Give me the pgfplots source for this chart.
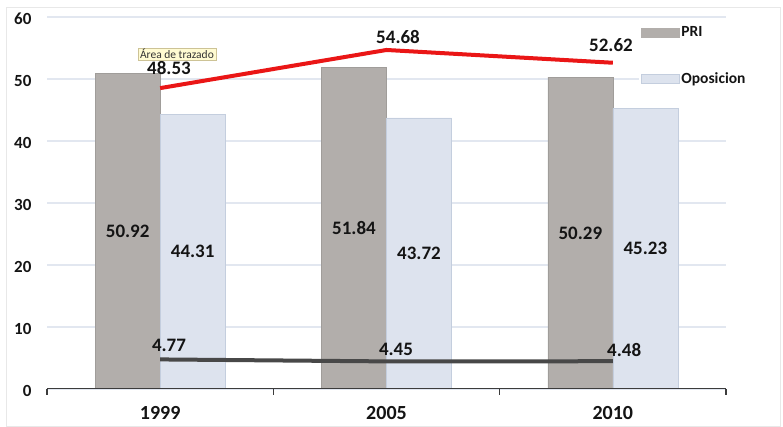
\documentclass[border=0pt]{standalone}
\usepackage{fontspec}
\setmainfont{Carlito}
\usepackage{pgfplots}
\pgfplotsset{compat=1.18}
\definecolor{prigray}{RGB}{178,174,171}
\definecolor{oposblue}{RGB}{221,227,238}
\definecolor{oposedge}{RGB}{196,206,222}
\definecolor{gridcol}{RGB}{226,231,240}
\definecolor{redline}{RGB}{234,22,22}
\definecolor{darkline}{RGB}{72,72,72}
\definecolor{axiscol}{RGB}{60,60,60}
\definecolor{labcol}{RGB}{20,20,20}
\definecolor{bordergray}{RGB}{232,232,232}
\definecolor{tipyellow}{RGB}{255,251,210}
\definecolor{tipborder}{RGB}{205,195,150}
\begin{document}
\begin{tikzpicture}
\path[use as bounding box] (-47pt,-38pt) rectangle (736pt,389pt);
\draw[bordergray, line width=0.8pt] (-41pt,-37pt) rectangle (733pt,382pt);
\begin{axis}[
  at={(0pt,0pt)}, anchor=south west,
  scale only axis, width=679pt, height=372pt,
  xmin=-0.5, xmax=2.5, ymin=0, ymax=60,
  xtick={0,1,2}, xticklabels={1999,2005,2010},
  minor xtick={-0.5,0.5,1.5,2.5},
  ytick={0,10,20,30,40,50,60},
  major tick length=0pt,
  minor tick length=6pt,
  tick align=outside,
  tick pos=left,
  minor tick style={axiscol, line width=1.2pt},
  axis line style={draw=none},
  ymajorgrids,
  grid style={gridcol, line width=1.2pt},
  /pgf/number format/assume math mode=true,
  yticklabel style={font=\bfseries\fontsize{17}{20}\selectfont, text=labcol, xshift=-12pt, yshift=-2pt},
  xticklabel style={font=\bfseries\fontsize{20}{24}\selectfont, text=labcol, yshift=-14pt},
  legend style={at={(rel axis cs:0.872,0.99)}, anchor=north west, draw=none, fill=white,
    font=\bfseries\fontsize{15.5}{18}\selectfont, text=labcol, row sep=30pt, inner xsep=2pt, inner ysep=4pt,
    nodes={inner xsep=1.5pt}},
  legend cell align=left,
]
\addplot[ybar, bar width=65pt, bar shift=-32.5pt, fill=prigray, draw=prigray!90!black, line width=0.4pt, forget plot]
  coordinates {(0,50.92) (1,51.84) (2,50.29)};
\addplot[ybar, bar width=65pt, bar shift=32.5pt, fill=oposblue, draw=oposedge, line width=0.6pt, forget plot]
  coordinates {(0,44.31) (1,43.72) (2,45.23)};
\addplot[sharp plot, redline, line width=4pt, mark=none, forget plot]
  coordinates {(0,48.53) (1,54.68) (2,52.62)};
\addplot[sharp plot, darkline, line width=4pt, mark=none, forget plot]
  coordinates {(0,4.77) (1,4.45) (2,4.48)};
\draw[axiscol, line width=1.4pt] (axis cs:-0.5,0) -- (axis cs:2.5,0);

\addlegendimage{legend image code/.code={\fill[prigray] (0pt,-4.5pt) rectangle (38pt,4.5pt);}}
\addlegendentry{PRI}
\addlegendimage{legend image code/.code={\fill[oposblue] (0pt,-4.5pt) rectangle (38pt,4.5pt); \draw[oposedge, line width=0.6pt] (0pt,-4.5pt) rectangle (38pt,4.5pt);}}
\addlegendentry{Oposicion}

\begin{scope}[every node/.style={font=\bfseries\fontsize{19}{22}\selectfont, text=labcol, inner sep=0pt}]
\node at (axis cs:-0.1436,25.46) {50.92};
\node at (axis cs:0.1436,22.16) {44.31};
\node at (axis cs:0.8564,25.92) {51.84};
\node at (axis cs:1.1436,21.86) {43.72};
\node at (axis cs:1.8564,25.15) {50.29};
\node at (axis cs:2.1436,22.62) {45.23};
\node at (axis cs:0.039,51.8) {48.53};
\node at (axis cs:1.051,56.85) {54.68};
\node at (axis cs:1.992,55.5) {52.62};
\node at (axis cs:0.039,7.0) {4.77};
\node at (axis cs:1.042,6.45) {4.45};
\node at (axis cs:2.05,6.3) {4.48};
\end{scope}
\node[fill=tipyellow, draw=tipborder, line width=0.5pt, font=\fontsize{11.5}{13}\selectfont, text=black!80, inner xsep=2pt, inner ysep=1.5pt] at (axis cs:0.074,54.0) {Área de trazado};
\end{axis}
\end{tikzpicture}
\end{document}
